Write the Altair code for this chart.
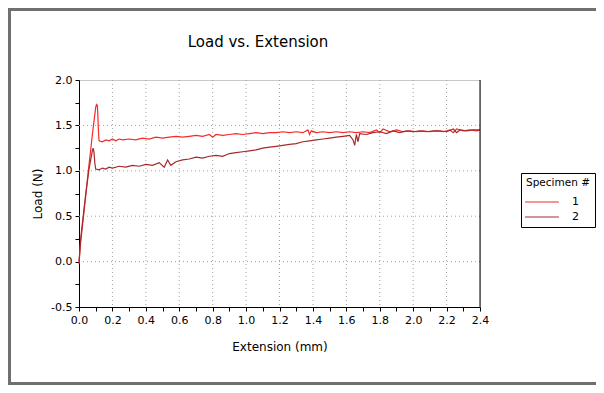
import altair as alt
import pandas as pd

# Specimen 1 (bright red)
s1_x = [0.000, 0.005, 0.010, 0.020, 0.030, 0.040, 0.050, 0.060, 0.070, 0.080, 0.090, 0.100, 0.105, 0.110, 0.113, 0.116, 0.120,
        0.14, 0.16, 0.18, 0.20, 0.22, 0.24, 0.26, 0.30, 0.34, 0.38, 0.42, 0.46, 0.50, 0.54, 0.58, 0.62, 0.66, 0.70, 0.74,
        0.78, 0.80, 0.82, 0.86, 0.90, 0.94, 0.98, 1.02, 1.06, 1.10, 1.14, 1.18, 1.22, 1.26, 1.30, 1.34, 1.37, 1.38, 1.39,
        1.42, 1.46, 1.50, 1.54, 1.58, 1.62, 1.66, 1.70, 1.74, 1.78, 1.80, 1.82, 1.86, 1.90, 1.94, 1.98, 2.02, 2.06, 2.10,
        2.14, 2.18, 2.22, 2.24, 2.26, 2.30, 2.34, 2.38, 2.40]
s1_y = [-0.03, 0.10, 0.22, 0.38, 0.55, 0.72, 0.90, 1.07, 1.23, 1.40, 1.55, 1.70, 1.73, 1.72, 1.60, 1.45, 1.33,
        1.32, 1.34, 1.33, 1.35, 1.33, 1.35, 1.34, 1.35, 1.34, 1.36, 1.35, 1.37, 1.36, 1.37, 1.38, 1.37, 1.38, 1.39, 1.38,
        1.40, 1.37, 1.40, 1.39, 1.40, 1.41, 1.40, 1.41, 1.42, 1.41, 1.42, 1.42, 1.43, 1.42, 1.43, 1.42, 1.45, 1.40, 1.44,
        1.42, 1.43, 1.42, 1.43, 1.42, 1.43, 1.42, 1.43, 1.42, 1.45, 1.42, 1.46, 1.43, 1.45, 1.43, 1.44, 1.43, 1.44, 1.43,
        1.44, 1.43, 1.45, 1.42, 1.46, 1.44, 1.45, 1.44, 1.45]

# Specimen 2 (dark red)
s2_x = [0.000, 0.005, 0.010, 0.020, 0.030, 0.040, 0.050, 0.060, 0.070, 0.080, 0.085, 0.090, 0.095, 0.100,
        0.12, 0.14, 0.16, 0.18, 0.20, 0.24, 0.28, 0.32, 0.36, 0.40, 0.44, 0.48, 0.51, 0.53, 0.55, 0.58, 0.62, 0.66,
        0.70, 0.74, 0.78, 0.82, 0.86, 0.90, 0.94, 0.98, 1.02, 1.06, 1.10, 1.14, 1.18, 1.22, 1.26, 1.30, 1.34, 1.38,
        1.42, 1.46, 1.50, 1.54, 1.58, 1.62, 1.64, 1.65, 1.66, 1.67, 1.68, 1.72, 1.76, 1.80, 1.84, 1.88, 1.92, 1.96,
        2.00, 2.04, 2.08, 2.12, 2.16, 2.20, 2.24, 2.26, 2.28, 2.32, 2.36, 2.40]
s2_y = [0.00, 0.12, 0.25, 0.42, 0.58, 0.74, 0.88, 1.02, 1.12, 1.22, 1.25, 1.20, 1.08, 1.02,
        1.01, 1.03, 1.02, 1.04, 1.03, 1.05, 1.04, 1.06, 1.05, 1.07, 1.06, 1.09, 1.04, 1.12, 1.06, 1.10, 1.12, 1.13,
        1.15, 1.14, 1.16, 1.17, 1.16, 1.19, 1.20, 1.21, 1.22, 1.23, 1.25, 1.26, 1.27, 1.28, 1.29, 1.30, 1.32, 1.33,
        1.34, 1.35, 1.36, 1.37, 1.38, 1.39, 1.34, 1.28, 1.40, 1.32, 1.41, 1.40, 1.42, 1.43, 1.41, 1.44, 1.42, 1.44,
        1.43, 1.44, 1.43, 1.44, 1.44, 1.43, 1.46, 1.42, 1.45, 1.44, 1.45, 1.45]

specimens = ["1", "2"]
colors = ["#f42a2a", "#a52a2a"]
chart_title = "Load vs. Extension"

x_ticks = [round(i * 0.1, 1) for i in range(0, 25)]
y_ticks = [-0.5, -0.25, 0.0, 0.25, 0.5, 0.75, 1.0, 1.25, 1.5, 1.75, 2.0]
grid_x = [0.2, 0.4, 0.6, 0.8, 1.0, 1.2, 1.4, 1.6, 1.8, 2.0, 2.2]
grid_y = [0.0, 0.5, 1.0, 1.5]

df = pd.concat([
    pd.DataFrame({"x": s1_x, "y": s1_y, "Specimen #": "1", "order": range(len(s1_x))}),
    pd.DataFrame({"x": s2_x, "y": s2_y, "Specimen #": "2", "order": range(len(s2_x))}),
])

FONT = "DejaVu Sans"
GRID_DASH = [1, 3]
GRID_COLOR = "#a0a0a0"

xscale = alt.Scale(domain=[0, 2.4], nice=False, zero=False)
yscale = alt.Scale(domain=[-0.5, 2.0], nice=False, zero=False)

x_axis = alt.Axis(title="Extension (mm)", values=x_ticks, format=".1f", grid=False,
                  labelExpr="round(datum.value*10) % 2 == 0 ? replace(datum.label, '\u2212', '-') : ''",
                  labelOverlap=False, labelFlush=False, titleFontWeight="normal", titlePadding=16)
y_axis = alt.Axis(title="Load (N)", values=y_ticks, format=".1f", grid=False,
                  labelExpr="round(datum.value*4) % 2 == 0 ? replace(datum.label, '\u2212', '-') : ''",
                  labelOverlap=False, labelFlush=False, titleFontWeight="normal", titlePadding=6)

lines = alt.Chart(df).mark_line(strokeWidth=1.2).encode(
    x=alt.X("x:Q", scale=xscale, axis=x_axis),
    y=alt.Y("y:Q", scale=yscale, axis=y_axis),
    color=alt.Color("Specimen #:N", scale=alt.Scale(domain=specimens, range=colors),
                    legend=alt.Legend(orient="none", legendX=442, legendY=93,
                                      symbolType="M-1.36,0L4.8,0", symbolSize=121,
                                      symbolStrokeWidth=1.2, labelOffset=33,
                                      strokeColor="black", fillColor="white", padding=5,
                                      titleFontWeight="normal", titleFontSize=10.5, labelFontSize=11,
                                      titleFont=FONT, labelFont=FONT, titleColor="black", labelColor="black",
                                      rowPadding=3, titlePadding=7)),
    order="order:Q",
)

gx = alt.Chart(pd.DataFrame({"g": grid_x})).mark_rule(color=GRID_COLOR, strokeDash=GRID_DASH, strokeWidth=1).encode(
    x=alt.X("g:Q", scale=xscale, axis=x_axis))
gy = alt.Chart(pd.DataFrame({"g": grid_y})).mark_rule(color=GRID_COLOR, strokeDash=GRID_DASH, strokeWidth=1).encode(
    y=alt.Y("g:Q", scale=yscale, axis=y_axis))

one = pd.DataFrame({"a": [0]})
title_text = alt.Chart(one).mark_text(font=FONT, fontSize=15, color="black", baseline="middle",
                                       align="center").encode(
    x=alt.value(179), y=alt.value(-38), text=alt.value(chart_title))
right_rule = alt.Chart(one).mark_rule(color="black", strokeWidth=1).encode(
    x=alt.value(401), y=alt.value(0), y2=alt.value(227))
frame = alt.Chart(one).mark_rect(fill=None, stroke="#707070", strokeWidth=3).encode(
    x=alt.value(-69.5), x2=alt.value(560), y=alt.value(-70.5), y2=alt.value(303.5))

chart = alt.layer(frame, title_text, gx, gy, lines, right_rule).properties(
    width=401, height=227,
    autosize=alt.AutoSizeParams(type="none"),
    padding={"left": 71, "top": 72, "right": 116, "bottom": 78},
).configure_view(stroke="#c8c8c8", strokeWidth=1).configure_axis(
    domainColor="black", tickColor="black", tickSize=4, labelFont=FONT, titleFont=FONT,
    labelFontSize=11, titleFontSize=12, titleFontWeight="normal", labelColor="black", titleColor="black",
    labelPadding=3,
)

chart.save("out.html", embed_options={"renderer": "svg", "actions": False})
